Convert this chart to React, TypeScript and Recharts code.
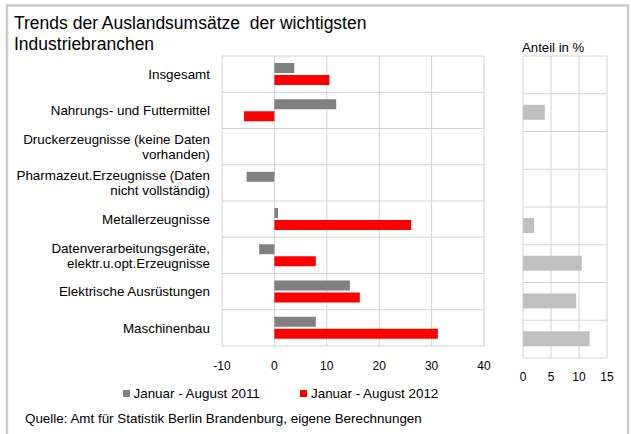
import React from 'react';
import { BarChart, Bar, XAxis, YAxis, CartesianGrid } from 'recharts';

const categories = [
  'Insgesamt',
  'Nahrungs- und Futtermittel',
  'Druckerzeugnisse (keine Daten\nvorhanden)',
  'Pharmazeut.Erzeugnisse (Daten\nnicht vollständig)',
  'Metallerzeugnisse',
  'Datenverarbeitungsgeräte,\nelektr.u.opt.Erzeugnisse',
  'Elektrische Ausrüstungen',
  'Maschinenbau',
];
const values2011 = [3.8, 11.8, null, -5.3, 0.7, -2.9, 14.4, 7.9];
const values2012 = [10.5, -5.8, null, null, 26.1, 7.9, 16.3, 31.2];
const anteil = [null, 3.9, null, null, 2.0, 10.5, 9.5, 11.9];
const mainTicks = [-10, 0, 10, 20, 30, 40];
const anteilTicks = [0, 5, 10, 15];
const seriesNames = ['Januar - August 2011', 'Januar - August 2012'];
const titleLines = ['Trends der Auslandsumsätze  der wichtigsten', 'Industriebranchen'];
const anteilTitle = 'Anteil in %';
const sourceText = 'Quelle: Amt für Statistik Berlin Brandenburg, eigene Berechnungen';

const FONT = 'Liberation Sans, Arial, Helvetica, sans-serif';
const GRID = '#d4d4d4';
const C2011 = '#808080';
const C2012 = '#ff0000';
const CANTEIL = '#c0c0c0';

const mainData = categories.map((name, i) => ({ name, y2011: values2011[i], y2012: values2012[i] }));
const anteilData = categories.map((name, i) => ({ name, v: anteil[i] }));

const bandLines = (n: number) => (props: any) => {
  const { offset } = props;
  const out: number[] = [];
  for (let i = 0; i <= n; i++) out.push(offset.top + (offset.height * i) / n);
  return out;
};

const CatTick = (props: any) => {
  const { x, y, payload } = props;
  const lines = String(payload.value).split('\n');
  const lh = 15;
  const start = -((lines.length - 1) * lh) / 2 + 4.7;
  return (
    <text x={x} y={y} textAnchor="end" fontSize={13.4} fill="#000" fontFamily={FONT}>
      {lines.map((l, i) => (
        <tspan key={i} x={x} dy={i === 0 ? start : lh}>
          {l}
        </tspan>
      ))}
    </text>
  );
};

export default function App() {
  return (
    <div style={{ position: 'absolute', left: 0, top: 0, width: 631, height: 434, background: '#fff', overflow: 'hidden' }}>
      <svg width={631} height={434} style={{ position: 'absolute', left: 0, top: 0 }}>
        <rect x={7} y={5.5} width={621} height={440} fill="#fff" stroke="#cccccc" strokeWidth={2.5} />
        <text x={14} y={29} fontSize={17.5} fontFamily={FONT} fill="#000" style={{ whiteSpace: 'pre' }}>
          {titleLines[0]}
        </text>
        <text x={14} y={49.5} fontSize={17.5} fontFamily={FONT} fill="#000">
          {titleLines[1]}
        </text>
        <text x={522} y={52} fontSize={13.2} fontFamily={FONT} fill="#000">
          {anteilTitle}
        </text>
        <rect x={123} y={390} width={7} height={7} fill={C2011} />
        <text x={133.5} y={398} fontSize={13.4} fontFamily={FONT} fill="#000">
          {seriesNames[0]}
        </text>
        <rect x={300} y={390} width={7} height={7} fill={C2012} />
        <text x={311} y={398} fontSize={13.4} fontFamily={FONT} fill="#000">
          {seriesNames[1]}
        </text>
        <text x={25} y={423} fontSize={13.4} fontFamily={FONT} fill="#000">
          {sourceText}
        </text>
      </svg>

      <div style={{ position: 'absolute', left: 0, top: 0 }}>
        <BarChart
          width={500}
          height={380}
          data={mainData}
          layout="vertical"
          margin={{ top: 56, right: 16, bottom: 4, left: 0 }}
          barSize={10}
          barGap={2}
        >
          <CartesianGrid stroke={GRID} horizontalCoordinatesGenerator={bandLines(categories.length)} />
          <XAxis
            type="number"
            domain={[-10, 40]}
            ticks={mainTicks}
            interval={0}
            axisLine={false}
            tickLine={false}
            tickMargin={9}
            tick={{ fontSize: 12, fill: '#000', fontFamily: FONT }}
          />
          <YAxis
            type="category"
            dataKey="name"
            width={222}
            axisLine={false}
            tickLine={false}
            tickMargin={6}
            interval={0}
            tick={<CatTick />}
          />
          <Bar dataKey="y2011" fill={C2011} isAnimationActive={false} />
          <Bar dataKey="y2012" fill={C2012} isAnimationActive={false} />
        </BarChart>
      </div>

      <div style={{ position: 'absolute', left: 500, top: 0 }}>
        <BarChart
          width={131}
          height={390}
          data={anteilData}
          layout="vertical"
          margin={{ top: 56, right: 24, bottom: 2, left: 23 }}
          barSize={15}
        >
          <CartesianGrid stroke={GRID} horizontalCoordinatesGenerator={bandLines(categories.length)} />
          <XAxis
            type="number"
            domain={[0, 15]}
            ticks={anteilTicks}
            interval={0}
            axisLine={false}
            tickLine={false}
            tickMargin={8}
            tick={{ fontSize: 12, fill: '#000', fontFamily: FONT }}
          />
          <YAxis type="category" dataKey="name" hide />
          <Bar dataKey="v" fill={CANTEIL} isAnimationActive={false} />
        </BarChart>
      </div>
    </div>
  );
}
